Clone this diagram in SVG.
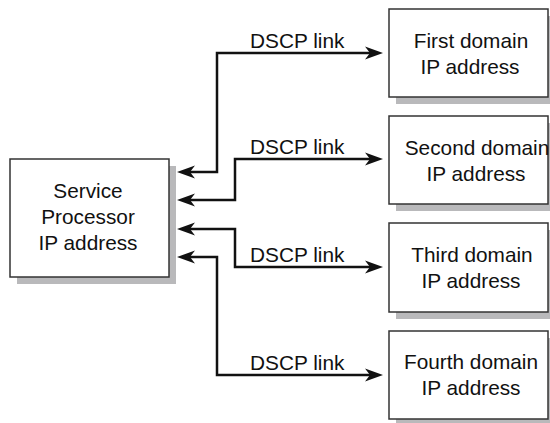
<svg xmlns="http://www.w3.org/2000/svg" width="550" height="423" viewBox="0 0 550 423">
<style>
.bg{fill:#ffffff}
.shadow{fill:#b9b9bb}
.box{fill:#ffffff;stroke:#333333;stroke-width:1.5}
.t{font-family:"Liberation Sans",Arial,Helvetica,sans-serif;font-size:20.8px;fill:#111111}
.c{text-anchor:middle}
.conn{fill:none;stroke:#111111;stroke-width:2.5;marker-start:url(#arr);marker-end:url(#arr)}
</style>
<defs>
<marker id="arr" viewBox="0 -7 18 14" refX="10" refY="0" markerWidth="18" markerHeight="14" markerUnits="userSpaceOnUse" orient="auto-start-reverse">
<path d="M18,0 L0,-6.5 L5,0 L0,6.5 Z" fill="#111111"/>
</marker>
</defs>
<rect class="bg" x="0" y="0" width="550" height="423"/>

<g id="sp">
<rect class="shadow" x="17" y="166" width="159" height="118"/>
<rect class="box" x="10" y="159" width="159" height="118"/>
<text class="t c" x="88" y="198">Service</text>
<text class="t c" x="88" y="224">Processor</text>
<text class="t c" x="88" y="250">IP address</text>
</g>

<g id="d1">
<rect class="shadow" x="396" y="16" width="159" height="88"/>
<rect class="box" x="389" y="9" width="159" height="88"/>
<text class="t c" x="471" y="48">First domain</text>
<text class="t c" x="470" y="74">IP address</text>
</g>

<g id="d2">
<rect class="shadow" x="396" y="123" width="159" height="88"/>
<rect class="box" x="389" y="116" width="159" height="88"/>
<text class="t c" x="477" y="155">Second domain</text>
<text class="t c" x="476" y="181">IP address</text>
</g>

<g id="d3">
<rect class="shadow" x="396" y="230" width="159" height="89"/>
<rect class="box" x="389" y="223" width="159" height="89"/>
<text class="t c" x="472" y="262">Third domain</text>
<text class="t c" x="471" y="288">IP address</text>
</g>

<g id="d4">
<rect class="shadow" x="396" y="338" width="159" height="88"/>
<rect class="box" x="389" y="331" width="159" height="88"/>
<text class="t c" x="471" y="369">Fourth domain</text>
<text class="t c" x="471" y="395">IP address</text>
</g>

<g id="connectors">
<path class="conn" d="M185,172 H217 V53 H375"/>
<path class="conn" d="M185,200 H235 V159 H375"/>
<path class="conn" d="M185,229 H235 V267 H375"/>
<path class="conn" d="M185,257 H217 V375 H375"/>
<text class="t" x="250" y="48">DSCP link</text>
<text class="t" x="250" y="154">DSCP link</text>
<text class="t" x="250" y="262">DSCP link</text>
<text class="t" x="250" y="370">DSCP link</text>
</g>
</svg>
